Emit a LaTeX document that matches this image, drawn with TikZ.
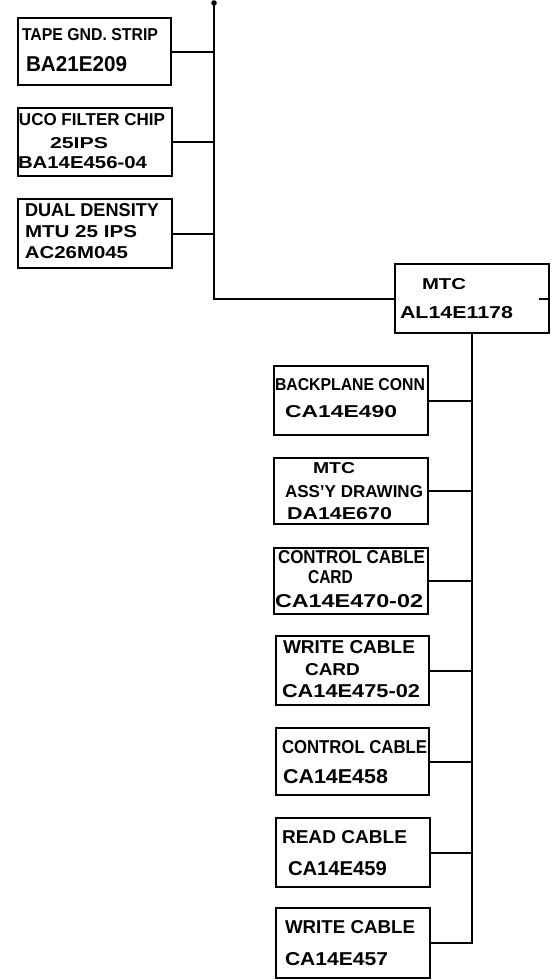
\documentclass[tikz,border=0pt]{standalone}
\usepackage{fontspec}
\setmainfont{Liberation Sans}
\usepackage{graphicx}
\newcommand\fitl[3]{\resizebox{#1pt}{#2pt}{\bfseries #3}}
\begin{document}
\begin{tikzpicture}[x=1pt,y=-1pt,line width=2pt,
  box/.style={draw,rectangle,anchor=north west,inner sep=0pt,line width=2pt},
  txt/.style={anchor=base west,inner sep=0pt,outer sep=0pt},
  wire/.style={draw,line width=2pt}]
\useasboundingbox (0,0) rectangle (556,980);
% upper left boxes
\node[box,minimum width=153,minimum height=67] (tape) at (17,17) {};
\node[txt] (tapeA) at (22,40) {\fitl{136}{12}{TAPE GND. STRIP}};
\node[txt] (tapeB) at (26,71) {\fitl{101}{15}{BA21E209}};
\node[box,minimum width=154,minimum height=68] (uco) at (17,107) {};
\node[txt] (ucoA) at (19,125) {\fitl{146}{12}{UCO FILTER CHIP}};
\node[txt] (ucoB) at (50,148) {\fitl{58}{11}{25IPS}};
\node[txt] (ucoC) at (18,168) {\fitl{129}{12}{BA14E456-04}};
\node[box,minimum width=154,minimum height=69] (dual) at (17,198) {};
\node[txt] (dualA) at (25,216) {\fitl{134}{13}{DUAL DENSITY}};
\node[txt] (dualB) at (25,237) {\fitl{112}{12}{MTU 25 IPS}};
\node[txt] (dualC) at (25,258) {\fitl{103}{12}{AC26M045}};
% MTC
\node[box,minimum width=154,minimum height=69] (mtc) at (394,263) {};
\node[txt] (mtcA) at (422,289) {\fitl{44}{11}{MTC}};
\node[txt] (mtcB) at (400,318) {\fitl{113}{12}{AL14E1178}};
% lower boxes
\node[box,minimum width=154,minimum height=69] (bp) at (273,365) {};
\node[txt] (bpA) at (275,390) {\fitl{150}{12}{BACKPLANE CONN}};
\node[txt] (bpB) at (285,417) {\fitl{112}{12}{CA14E490}};
\node[box,minimum width=154,minimum height=66] (assy) at (273,457) {};
\node[txt] (assyA) at (313,473) {\fitl{42}{11}{MTC}};
\node[txt] (assyB) at (285,497) {\fitl{138}{12}{ASS'Y DRAWING}};
\node[txt] (assyC) at (287,519) {\fitl{105}{12}{DA14E670}};
\node[box,minimum width=154,minimum height=66] (ccc) at (273,547) {};
\node[txt] (cccA) at (278,563) {\fitl{147}{13}{CONTROL CABLE}};
\node[txt] (cccB) at (308,583) {\fitl{45}{13}{CARD}};
\node[txt] (cccC) at (275,607) {\fitl{148}{13}{CA14E470-02}};
\node[box,minimum width=153,minimum height=69] (wcc) at (275,635) {};
\node[txt] (wccA) at (283,653) {\fitl{132}{13}{WRITE CABLE}};
\node[txt] (wccB) at (305,675) {\fitl{55}{12}{CARD}};
\node[txt] (wccC) at (282,697) {\fitl{138}{13}{CA14E475-02}};
\node[box,minimum width=153,minimum height=67] (cc) at (275,727) {};
\node[txt] (ccA) at (282,753) {\fitl{145}{13}{CONTROL CABLE}};
\node[txt] (ccB) at (283,783) {\fitl{105}{14}{CA14E458}};
\node[box,minimum width=154,minimum height=69] (rc) at (275,817) {};
\node[txt] (rcA) at (282,843) {\fitl{125}{13}{READ CABLE}};
\node[txt] (rcB) at (288,875) {\fitl{99}{14}{CA14E459}};
\node[box,minimum width=154,minimum height=70] (wc) at (275,907) {};
\node[txt] (wcA) at (285,933) {\fitl{130}{13}{WRITE CABLE}};
\node[txt] (wcB) at (285,965) {\fitl{103}{13}{CA14E457}};
% connectors
\coordinate (top) at (214,3);
\fill (top) circle (2.8);
\draw[wire] (top) |- (mtc.west);
\draw[wire] (tape.east) -- (tape.east -| top);
\draw[wire] (uco.east) -- (uco.east -| top);
\draw[wire] (dual.east) -- (dual.east -| top);
\draw[wire] (mtc.east) -- ++(-11,0);
\draw[wire] (mtc.south) -- (mtc.south |- wc.east) -- (wc.east);
\foreach \b in {bp,assy,ccc,wcc,cc,rc}
  \draw[wire] (\b.east) -- (\b.east -| mtc.south);
\end{tikzpicture}
\end{document}
